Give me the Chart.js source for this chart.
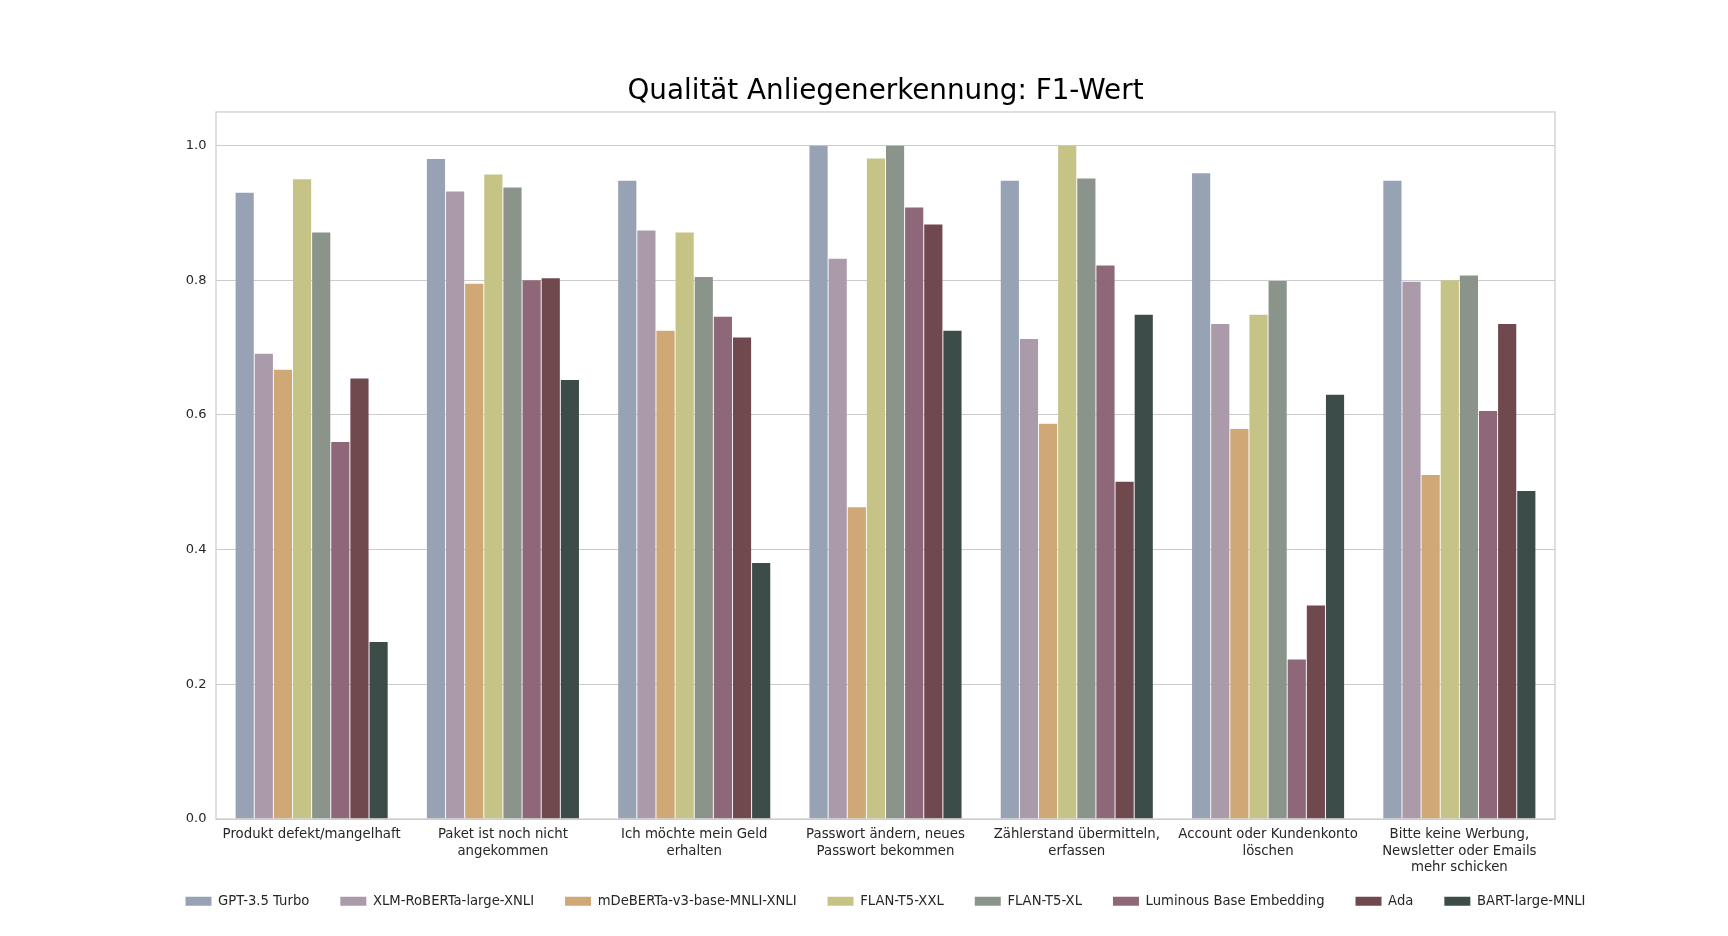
<!DOCTYPE html>
<html>
<head>
<meta charset="utf-8">
<script src="https://cdn.jsdelivr.net/npm/chart.js@4/dist/chart.umd.min.js"></script>
<style>
  html, body { margin: 0; padding: 0; background: #ffffff; }
  #wrap { width: 1728px; height: 936px; }
</style>
</head>
<body>
<div id="wrap"><canvas id="c" width="1728" height="936"></canvas></div>
<script>
const chartTitle = 'Qualität Anliegenerkennung: F1-Wert';

const categories = [
  'Produkt defekt/mangelhaft',
  ['Paket ist noch nicht', 'angekommen'],
  ['Ich möchte mein Geld', 'erhalten'],
  ['Passwort ändern, neues', 'Passwort bekommen'],
  ['Zählerstand übermitteln,', 'erfassen'],
  ['Account oder Kundenkonto', 'löschen'],
  ['Bitte keine Werbung,', 'Newsletter oder Emails', 'mehr schicken']
];

const seriesNames = [
  'GPT-3.5 Turbo',
  'XLM-RoBERTa-large-XNLI',
  'mDeBERTa-v3-base-MNLI-XNLI',
  'FLAN-T5-XXL',
  'FLAN-T5-XL',
  'Luminous Base Embedding',
  'Ada',
  'BART-large-MNLI'
];

const gpt35     = [0.930, 0.980, 0.948, 1.000, 0.948, 0.959, 0.948];
const xlmRoberta = [0.691, 0.932, 0.874, 0.832, 0.713, 0.735, 0.798];
const mdeberta  = [0.667, 0.795, 0.725, 0.463, 0.587, 0.579, 0.511];
const flanXXL   = [0.950, 0.957, 0.871, 0.981, 1.000, 0.749, 0.800];
const flanXL    = [0.871, 0.938, 0.805, 1.000, 0.951, 0.799, 0.807];
const luminous  = [0.560, 0.800, 0.746, 0.908, 0.822, 0.237, 0.606];
const ada       = [0.654, 0.803, 0.715, 0.883, 0.501, 0.317, 0.735];
const bart      = [0.263, 0.652, 0.380, 0.725, 0.749, 0.630, 0.487];

const yTickValues = [0, 0.2, 0.4, 0.6, 0.8, 1.0];
const yTickLabels = ['0.0', '0.2', '0.4', '0.6', '0.8', '1.0'];

const seriesColors = ['#97a3b4', '#ab9baa', '#cfa876', '#c5c486', '#8b948a', '#8e6878', '#70494e', '#3c4c48'];
const seriesValues = [gpt35, xlmRoberta, mdeberta, flanXXL, flanXL, luminous, ada, bart];

const FONT = 'DejaVu Sans';

const framePlugin = {
  id: 'frame',
  afterDraw(chart) {
    const a = chart.chartArea;
    const ctx = chart.ctx;
    ctx.save();
    ctx.strokeStyle = '#cccccc';
    ctx.lineWidth = 1.25;
    ctx.strokeRect(a.left, a.top, a.right - a.left, a.bottom - a.top);
    ctx.restore();
  }
};

const legendShiftPlugin = {
  id: 'legendShift',
  afterLayout(chart) {
    const lg = chart.legend;
    if (lg) { lg.top -= 15.3; lg.bottom -= 15.3; }
  }
};

new Chart(document.getElementById('c'), {
  type: 'bar',
  data: {
    labels: categories,
    datasets: seriesNames.map((name, i) => ({
      label: name,
      data: seriesValues[i],
      backgroundColor: seriesColors[i],
      borderWidth: 0,
      categoryPercentage: 0.8,
      barPercentage: 0.95,
      yAxisID: 'y'
    }))
  },
  options: {
    responsive: false,
    devicePixelRatio: 1,
    animation: false,
    layout: { padding: { left: 120, right: 77, top: 0, bottom: 2.8 } },
    plugins: {
      tooltip: { enabled: false },
      title: {
        display: true,
        text: chartTitle,
        color: '#000000',
        font: { family: FONT, size: 27.8, weight: 'normal', lineHeight: 1.2 },
        padding: { top: 75.1, bottom: 3.5 }
      },
      legend: {
        display: true,
        position: 'bottom',
        labels: {
          boxWidth: 26,
          boxHeight: 9,
          padding: 31,
          color: '#262626',
          font: { family: FONT, size: 13.2 }
        }
      }
    },
    scales: {
      x: {
        grid: { display: false, drawTicks: false },
        border: { display: false },
        ticks: {
          color: '#262626',
          padding: 7.75,
          maxRotation: 0,
          autoSkip: false,
          font: { family: FONT, size: 13.3, lineHeight: 1.24 }
        },
        afterFit(s) { s.height = 60; }
      },
      y: {
        position: 'left',
        min: 0,
        max: 1.05,
        grid: { color: '#cccccc', lineWidth: 1, drawTicks: false },
        border: { display: false },
        afterBuildTicks(s) { s.ticks = yTickValues.map(v => ({ value: v })); },
        ticks: {
          color: '#262626',
          padding: 9.5,
          font: { family: FONT, size: 13 },
          callback: (v, idx) => yTickLabels[idx]
        },
        afterFit(s) { s.width = 96; }
      },
      yRight: {
        position: 'right',
        display: true,
        grid: { display: false, drawTicks: false },
        border: { display: false },
        ticks: { display: false },
        afterFit(s) { s.width = 96; }
      }
    }
  },
  plugins: [framePlugin, legendShiftPlugin]
});
</script>
</body>
</html>
